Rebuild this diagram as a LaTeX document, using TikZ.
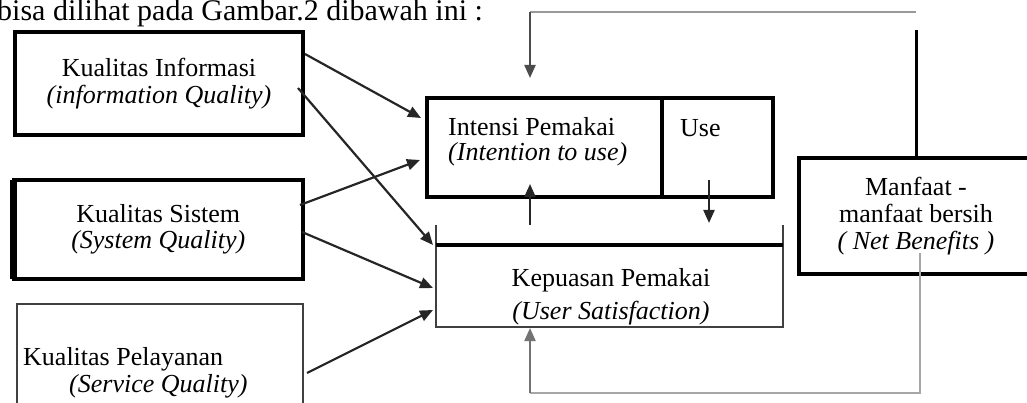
\documentclass[tikz,border=0pt]{standalone}
\usepackage{fontspec}
\setmainfont{Liberation Serif}
\usetikzlibrary{arrows.meta,positioning,calc}

\begin{document}
\begin{tikzpicture}[x=1pt,y=-1pt,
  box/.style={draw,line width=3.2pt,inner sep=0pt,outer sep=0pt,align=center,
    font=\fontsize{26}{27}\selectfont},
  txt/.style={inner sep=0pt,font=\fontsize{26}{27}\selectfont},
  arr/.style={-{Triangle[length=13pt,width=11pt]},line width=2.2pt,black!85},
  fbline/.style={line width=2.4pt,black!40}]
  \useasboundingbox (0,0) rectangle (1027,403);
  % Heading line
  \node[txt,font=\fontsize{30}{30}\selectfont,anchor=base west] (intro) at (-3,21) {bisa dilihat pada Gambar.2 dibawah ini :};
  % Quality boxes (left)
  \node[box,minimum width=288pt,minimum height=103pt] (ki) at (159,83.5) {Kualitas Informasi\\\textit{(information Quality)}};
  \node[box,minimum width=289.5pt,minimum height=99pt] (ks) at (158.25,229.5) {Kualitas Sistem\\[-1pt]\textit{(System Quality)}};
  \draw[line width=7pt] (ks.north west) -- (ks.south west);
  \node[box,draw=black!75,line width=2.6pt,minimum width=286pt,minimum height=130pt] (kp) at (160,369) {};
  \node[txt,align=left,anchor=west] (kptext) at (23,373) {Kualitas Pelayanan\\\hspace*{46pt}\textit{(Service Quality)}};
  % Intention / use
  \node[box,minimum width=235pt,minimum height=99pt] (intensi) at (544.5,147.5) {};
  \node[txt,align=left,anchor=west] (intensitext) at (448,142) {Intensi Pemakai\\[-2pt]\textit{(Intention to use)}};
  \node[box,minimum width=111pt,minimum height=99pt,right=0pt of intensi] (use) {};
  \node[txt,anchor=base west] (usetext) at (680,137) {Use};
  % User satisfaction (open frame)
  \node[minimum width=347pt,minimum height=82pt,inner sep=0pt,outer sep=0pt] (kepuasan) at (609.5,286) {};
  \draw[line width=2.6pt,black!75] ([yshift=20pt]kepuasan.north west) -- (kepuasan.south west)
    -- (kepuasan.south east) -- ([yshift=20pt]kepuasan.north east);
  \draw[line width=3.2pt] (kepuasan.north west) -- (kepuasan.north east);
  \node[txt,align=center] (kepuasantext) at (611,297) {Kepuasan Pemakai\\[6pt]\textit{(User Satisfaction)}};
  % Net benefits
  \node[box,minimum width=234pt,minimum height=116pt] (manfaat) at (916,216) {Manfaat -\\manfaat bersih\\\textit{( Net Benefits )}};
  % Arrows from the quality boxes
  \draw[arr] ($(ki.north east)+(2,22)$) -- ($(intensi.north west)+(-6,20)$);
  \draw[arr] ($(ki.north east)+(-5,56)$) -- ($(kepuasan.north west)+(-3,0)$);
  \draw[arr] ($(ks.north east)+(-3,25)$) -- ($(intensi.north west)+(-7,62)$);
  \draw[arr] ($(ks.north east)+(-1,52)$) -- ($(kepuasan.north west)+(-3,43)$);
  \draw[arr] ($(kp.north east)+(4,69)$) -- ($(kepuasan.north west)+(-3,65)$);
  % Between intention, use and satisfaction
  \draw[arr] ($(kepuasan.north west)+(94,-20)$) -- ($(intensi.south west)+(103,-13)$);
  \draw[arr] ($(use.south west)+(47,-17)$) -- ($(kepuasan.north west)+(273,-22)$);
  % Feedback loops
  \coordinate (fbtop) at ($(manfaat.north)+(0,-128)$);
  \coordinate (fbcorner) at ($(manfaat.north)+(0,-146)$);
  \coordinate (fbend) at ($(intensi.north west)+(103,-20)$);
  \draw[line width=3pt] (manfaat.north) -- (fbtop);
  \draw[fbline] (fbcorner) -- (fbcorner -| fbend);
  \draw[arr,black!70] (fbend |- fbcorner) -- (fbend);
  \coordinate (nbstart) at ($(manfaat.south)+(4,-21)$);
  \coordinate (fbbottom) at ($(kepuasan.south west)+(94,66)$);
  \draw[line width=2pt,black!35] (nbstart) |- (fbbottom);
  \draw[arr,black!55,line width=2pt] (fbbottom) -- ($(kepuasan.south west)+(94,1)$);
\end{tikzpicture}
\end{document}
